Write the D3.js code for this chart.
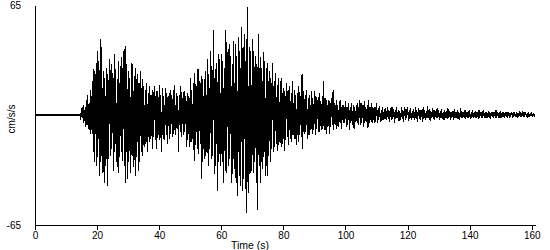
<!DOCTYPE html>
<html>
<head>
<meta charset="utf-8">
<script src="https://cdn.jsdelivr.net/npm/d3@7"></script>
<style>
  html, body { margin: 0; padding: 0; background: #fff; }
  svg { display: block; }
  text { font-family: Arial, "Liberation Sans", sans-serif; fill: #000; }
</style>
</head>
<body>
<div id="chart"></div>
<script>
// ---- Data ----
const xTicks = [0, 20, 40, 60, 80, 100, 120, 140, 160];
const yTicks = [-65, 65];
const xLabel = "Time (s)";
const yLabel = "cm/s/s";

// quiet pre-event part of the record (s)
const quietStart = 0;
const quietEnd = 14.5;

// acceleration samples (cm/s/s), one every 0.25 s starting at 14.5 s
const sampleStart = 14.5;
const sampleStep = 0.25;
const accel = [
  // 14.5 - 19.25
  1, -3, 4, -2, 6, -5, 3, -7, 9, -6, 12, -8, 7, -11, 15, -9, 20, -22, 27, -28,
  // 19.5 - 24.25
  24, -30, 38, -25, 32, -36, 45, -28, 40, -34, 26, -40, 22, -30, 28, -42, 24, -26, 33, -24,
  // 24.5 - 29.25
  30, -20, 25, -33, 36, -22, 27, -28, 21, -34, 32, -25, 29, -22, 34, -27, 38, -30, 41, -40,
  // 29.5 - 34.25
  30, -38, 26, -28, 22, -34, 31, -24, 30, -31, 23, -36, 28, -25, 24, -33, 19, -28, 26, -22,
  // 34.5 - 39.25
  21, -24, 17, -19, 15, -17, 19, -22, 13, -16, 17, -14, 12, -20, 15, -13, 17, -15, 14, -20,
  // 39.5 - 44.25
  14, -12, 18, -15, 12, -22, 16, -14, 11, -15, 16, -12, 13, -17, 11, -14, 15, -11, 12, -13,
  // 44.5 - 49.25
  15, -11, 18, -12, 13, -8, 11, -22, 12, -10, 17, -13, 10, -12, 14, -10, 11, -19, 13, -15,
  // 49.5 - 54.25
  11, -19, 22, -16, 15, -14, 19, -27, 25, -18, 17, -20, 27, -23, 20, -17, 23, -38, 21, -20,
  // 54.5 - 59.25
  21, -26, 26, -22, 33, -30, 24, -20, 38, -26, 29, -24, 50, -35, 27, -30, 31, -45, 36, -28,
  // 59.5 - 64.25
  33, -30, 36, -28, 32, -40, 28, -33, 50, -34, 37, -30, 42, -26, 35, -40, 30, -35, 44, -32,
  // 64.5 - 69.25
  42, -40, 35, -48, 46, -36, 38, -42, 52, -45, 40, -38, 48, -44, 45, -58, 64, -46, 40, -35,
  // 69.5 - 74.25
  38, -33, 45, -34, 38, -28, 35, -40, 30, -56, 48, -30, 34, -40, 28, -32, 37, -25, 32, -36,
  // 74.5 - 79.25
  28, -36, 31, -24, 26, -28, 22, -20, 31, -22, 20, -19, 25, -17, 18, -21, 22, -16, 20, -19,
  // 79.5 - 84.25
  22, -17, 16, -21, 14, -15, 19, -13, 15, -18, 17, -14, 13, -16, 20, -12, 15, -14, 12, -18,
  // 84.5 - 89.25
  13, -16, 17, -12, 11, -13, 24, -20, 14, -11, 12, -10, 15, -14, 10, -12, 12, -9, 14, -11,
  // 89.5 - 94.25
  10, -9, 14, -12, 11, -8, 9, -10, 13, -10, 8, -9, 11, -8, 20, -9, 10, -11, 9, -7,
  // 94.5 - 99.25
  9, -11, 8, -7, 10, -6, 15, -9, 7, -6, 9, -8, 6, -7, 8, -5, 9, -8, 6, -5,
  // 99.5 - 104.25
  6, -5, 8, -7, 5, -6, 7, -9, 5, -5, 7, -6, 6, -8, 5, -4, 6, -5, 7, -6,
  // 104.5 - 109.25
  9, -6, 7, -5, 6, -7, 8, -5, 5, -4, 6, -7.5, 9, -5, 5, -4, 7, -5, 4, -5,
  // 109.5 - 114.25
  5, -4, 7, -5, 4, -3, 5.5, -4, 3, -3.5, 4.5, -3, 3.5, -2.5, 4, -3, 5, -2.5, 3, -4,
  // 114.5 - 119.25
  4, -3, 5, -2.5, 3.5, -4.5, 3, -2.5, 4.5, -2, 3, -3.5, 2.5, -3, 5, -2.5, 3, -4, 4.5, -3,
  // 119.5 - 124.25
  3.5, -2, 5, -3.5, 3, -2.5, 4, -3, 2.5, -2, 3.5, -3, 5, -2.5, 3, -4, 4, -2.5, 3, -3,
  // 124.5 - 129.25
  3, -4, 4.5, -2.5, 3, -3, 2.5, -2, 5.5, -2, 3.5, -3.5, 2.5, -2, 4, -2.5, 3, -3, 2.5, -2,
  // 129.5 - 134.25
  4, -2, 3, -3, 2.5, -2, 3.5, -2.5, 2, -3, 3, -2, 2.5, -2.5, 4, -2, 2.5, -3, 2, -2,
  // 134.5 - 139.25
  2.5, -3, 3.5, -2, 2, -1.5, 3, -2.5, 2, -3, 4, -2, 2.5, -1.5, 2, -2, 3, -2.5, 2, -1.5,
  // 139.5 - 144.25
  2.5, -2, 3, -2.5, 2, -1.5, 3, -2, 2, -1.5, 2.5, -2, 1.5, -2.5, 3, -1.5, 2, -2, 2.5, -1.5,
  // 144.5 - 149.25
  3, -1.5, 2, -2, 1.5, -1.5, 2.5, -1.5, 2, -2.5, 1.5, -1, 2, -1.5, 1.5, -1.5, 3, -1.5, 2, -1.5,
  // 149.5 - 154.25
  2, -2, 2.5, -1.5, 1.5, -1, 2, -1.5, 1.5, -1, 2, -1.5, 1.5, -1.5, 1, -1, 2, -1.5, 1.5, -1,
  // 154.5 - 159.25
  2, -1, 1.5, -1.5, 1, -1, 2.5, -1, 1.5, -0.5, 1, -1, 2, -1, 1.5, -1, 1, -1.5, 1.5, -1,
  // 159.5 - 161
  1, -0.5, 1.5, -1, 1, -1, 0.5
];

// ---- Layout ----
const width = 550, height = 250;
const x = d3.scaleLinear().domain([0, 161.2]).range([35, 535.5]);
const y = d3.scaleLinear().domain([-65, 65]).range([225, 5]);

const svg = d3.select("#chart").append("svg")
  .attr("width", width).attr("height", height);

// ---- Trace ----
const samples = accel.map((v, i) => ({ t: sampleStart + i * sampleStep, v }));
const line = d3.line().x(d => x(d.t)).y(d => y(d.v));

svg.append("path")
  .datum([{ t: quietStart, v: 0 }, { t: quietEnd, v: 0 }])
  .attr("d", line)
  .attr("fill", "none")
  .attr("stroke", "#000")
  .attr("stroke-width", 2)
  .attr("shape-rendering", "crispEdges");

// aliased drawing gives the solid black body of the original plot
svg.append("path")
  .datum([{ t: quietEnd, v: 0 }, ...samples])
  .attr("d", line)
  .attr("fill", "none")
  .attr("stroke", "#000")
  .attr("stroke-width", 1)
  .attr("shape-rendering", "crispEdges");

// ---- Axes ----
const axisFont = "Arial, 'Liberation Sans', sans-serif";

const xAxis = svg.append("g")
  .attr("transform", "translate(0,225)")
  .call(d3.axisBottom(x).tickValues(xTicks).tickSize(5).tickSizeOuter(0).tickPadding(2));
xAxis.selectAll("text").attr("font-size", 10).attr("font-family", axisFont);

const yAxis = svg.append("g")
  .attr("transform", "translate(35,0)")
  .call(d3.axisLeft(y).tickValues(yTicks).tickSize(0).tickSizeOuter(0).tickPadding(14).tickFormat(d => String(d)));
yAxis.selectAll("text").attr("font-size", 10).attr("font-family", axisFont);

svg.selectAll(".domain, .tick line").attr("stroke", "#000").attr("shape-rendering", "crispEdges");

svg.append("text")
  .attr("x", 250).attr("y", 249)
  .attr("text-anchor", "middle")
  .attr("font-size", 10.5)
  .text(xLabel);

svg.append("text")
  .attr("transform", "translate(15,119) rotate(-90)")
  .attr("text-anchor", "middle")
  .attr("font-size", 10)
  .text(yLabel);
</script>
</body>
</html>
